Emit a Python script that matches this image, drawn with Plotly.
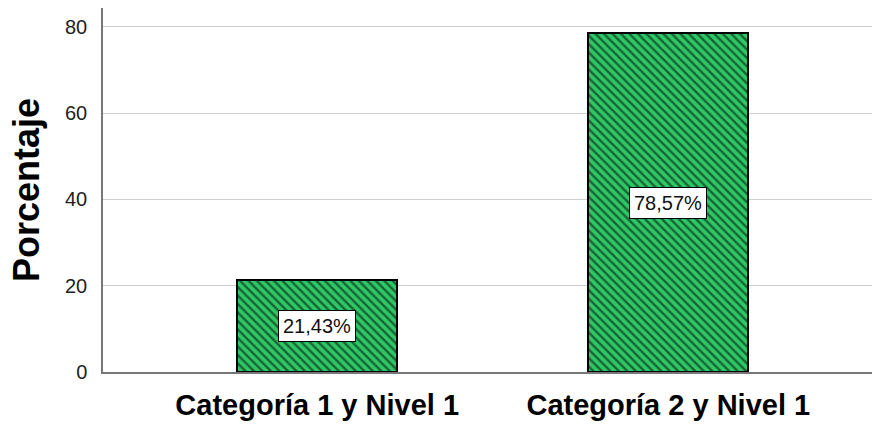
import plotly.graph_objects as go

categories = ["Categoría 1 y Nivel 1", "Categoría 2 y Nivel 1"]
percentages = [21.43, 78.57]
value_labels = ["21,43%", "78,57%"]
y_ticks = [0, 20, 40, 60, 80]

FONT = "Liberation Sans, Arial, sans-serif"

fig = go.Figure()
fig.add_trace(go.Bar(
    x=categories,
    y=percentages,
    width=0.455,
    marker=dict(
        color="#2EC866",
        line=dict(color="black", width=2),
        pattern=dict(shape="\\", fgcolor="black", bgcolor="#2EC866",
                     size=6, solidity=0.4, fillmode="overlay"),
    ),
    hoverinfo="skip",
))

for cat, val, lab in zip(categories, percentages, value_labels):
    fig.add_annotation(
        x=cat, y=val / 2, text=lab, showarrow=False,
        font=dict(family=FONT, size=20, color="#111"),
        bgcolor="white", bordercolor="black", borderwidth=1, borderpad=4,
    )

fig.update_layout(
    width=872, height=428,
    margin=dict(l=103, r=0, t=8, b=56),
    paper_bgcolor="white", plot_bgcolor="white",
    showlegend=False,
    bargap=0,
    xaxis=dict(
        type="category",
        range=[-0.61, 1.58],
        showline=True, linecolor="#777", linewidth=1.5,
        showgrid=False, ticks="",
        tickfont=dict(family=FONT, size=29, color="black", weight="bold"),
        ticklabelstandoff=6,
    ),
    yaxis=dict(
        range=[0, 84.4],
        tickvals=y_ticks,
        showline=True, linecolor="#777", linewidth=1.5,
        showgrid=True, gridcolor="#cfcfcf", gridwidth=1,
        zeroline=False, ticks="",
        tickfont=dict(family=FONT, size=20, color="#222"),
        ticklabelstandoff=10,
        title=dict(text="<b>Porcentaje</b>", standoff=14,
                   font=dict(family=FONT, size=36, color="black")),
    ),
)

fig.write_html("out.html")
